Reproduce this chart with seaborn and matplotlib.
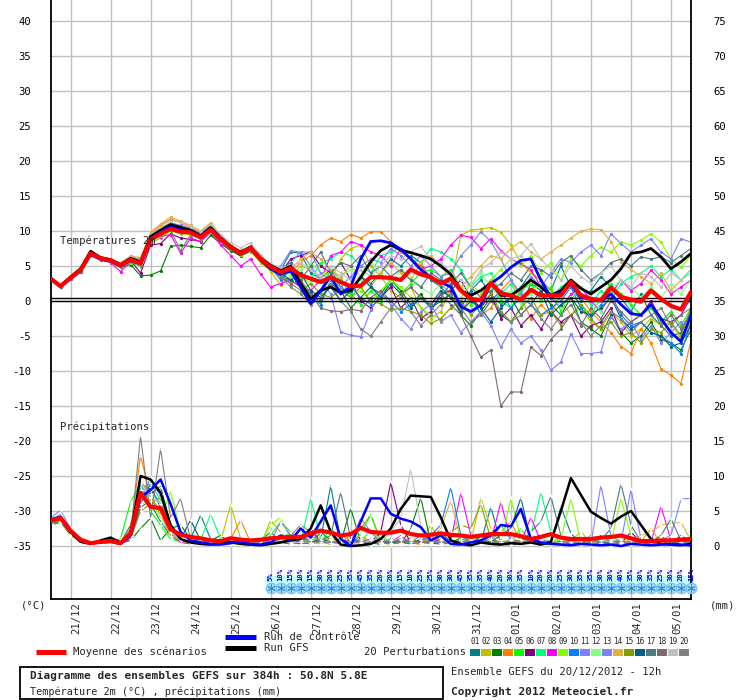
import numpy as np
import pandas as pd
import matplotlib
matplotlib.use("Agg")
import matplotlib.pyplot as plt
from matplotlib.patches import Rectangle
from matplotlib.lines import Line2D
import seaborn as sns

# ---------------- data ----------------
step_hours = list(range(0, 385, 6))          # 65 forecast steps, 6-hourly from 20/12 12h
day_labels = ["21/12", "22/12", "23/12", "24/12", "25/12", "26/12", "27/12", "28/12",
              "29/12", "30/12", "31/12", "01/01", "02/01", "03/01", "04/01", "05/01"]
day_hours = [12, 36, 60, 84, 108, 132, 156, 180, 204, 228, 252, 276, 300, 324, 348, 372]
temp_ticks = [-35, -30, -25, -20, -15, -10, -5, 0, 5, 10, 15, 20, 25, 30, 35, 40]
precip_ticks = [0, 5, 10, 15, 20, 25, 30, 35, 40, 45, 50, 55, 60, 65, 70, 75]

snow_pct = [5, 10, 15, 10, 15, 30, 20, 25, 35, 45, 35, 20, 20, 15, 10, 25, 25, 30, 30, 45, 35, 35,
            40, 20, 30, 35, 10, 20, 20, 25, 30, 35, 35, 30, 30, 40, 35, 30, 35, 25, 30, 20, 15]
snow_first_step = 22

temp_mean = [3.2, 2.1, 3.3, 4.4, 6.8, 6.1, 5.8, 5.1, 5.9, 5.4,
             8.8, 9.6, 10.3, 9.9, 9.8, 9.1, 10.2, 8.8, 7.7, 6.8,
             7.6, 6.0, 4.9, 4.1, 4.7, 3.7, 3.2, 2.7, 3.4, 2.7,
             2.1, 2.2, 3.4, 3.4, 3.3, 3.0, 4.5, 3.8, 3.4, 2.5,
             3.2, 1.5, 0.3, 0.1, 2.6, 1.1, 0.8, 0.2, 1.6, 0.8,
             0.8, 0.8, 2.7, 0.8, 0.3, 0.1, 1.9, 0.6, 0.2, -0.1,
             1.5, 0.3, -0.7, -1.2, 1.3]
temp_gfs = [3.3, 2.2, 3.4, 4.6, 7.1, 6.2, 5.9, 5.2, 6.1, 5.6,
            9.2, 10.1, 10.9, 10.5, 10.1, 9.3, 10.5, 9.0, 7.8, 7.0,
            7.7, 6.1, 5.1, 4.3, 5.0, 2.5, 0.3, 1.5, 2.0, 1.2,
            1.5, 3.4, 5.6, 7.2, 8.0, 7.3, 6.9, 6.5, 6.0, 5.0,
            3.8, 1.5, 0.8, 1.5, 2.6, 0.8, 0.8, 1.8, 3.0, 2.0,
            0.8, 1.5, 3.0, 1.8, 1.0, 2.0, 3.0, 4.6, 6.8, 7.0,
            7.5, 6.3, 4.6, 5.6, 6.8]
temp_ctrl = [3.2, 2.1, 3.2, 4.3, 6.6, 6.0, 5.7, 5.0, 5.8, 5.3,
             8.9, 9.8, 10.6, 10.2, 9.9, 9.2, 10.3, 8.9, 7.6, 6.7,
             7.5, 5.8, 4.6, 3.8, 4.3, 2.0, -0.4, 1.5, 3.5, 1.0,
             2.0, 6.0, 8.5, 8.6, 8.3, 7.4, 6.0, 4.5, 3.3, 2.7,
             2.0, -0.8, -1.5, -0.6, 2.5, 3.5, 4.8, 5.8, 6.0, 3.0,
             0.5, 1.2, 2.5, 0.5, 0.3, 0.0, 1.0, -0.5, -1.8, -2.0,
             -0.5, -2.5, -4.5, -5.8, -2.0]

temp_p01 = [3.3, 2.0, 3.5, 4.6, 7.0, 6.0, 5.5, 5.0, 6.1, 5.8,
            9.4, 10.4, 11.0, 10.6, 10.0, 9.4, 10.6, 8.9, 7.4, 6.9,
            7.8, 6.3, 5.0, 4.4, 7.0, 6.8, 4.0, 3.2, 4.5, 2.0,
            1.0, 3.5, 2.5, 4.0, 6.0, 5.0, 6.5, 5.5, 3.0, 2.0,
            0.5, -1.0, 1.5, 3.0, 1.0, -0.5, 0.5, 2.0, 4.0, 3.0,
            1.5, 5.0, 2.0, 0.0, 1.5, 3.5, 2.0, 0.5, -1.5, 1.0,
            -2.0, -3.5, -5.0, -4.5, -1.5]
temp_p02 = [3.1, 2.2, 3.4, 4.5, 6.9, 6.2, 5.9, 5.3, 6.2, 4.9,
            8.2, 9.0, 10.0, 9.6, 9.5, 8.9, 10.0, 8.6, 7.3, 6.5,
            7.0, 5.5, 4.2, 2.3, 3.5, 5.0, 4.5, 5.5, 3.0, 6.0,
            7.5, 8.0, 5.0, 3.5, 1.5, 0.5, 2.0, -1.0, -2.5, -1.5,
            2.0, 9.4, 10.1, 10.3, 10.5, 9.8, 8.0, 5.5, 4.0, 3.0,
            1.5, 0.0, -2.0, -1.0, -3.0, -4.0, -1.5, -3.0, -5.0, -4.0,
            -2.5, -3.5, -3.0, -5.5, -3.0]
temp_p03 = [3.2, 2.0, 3.2, 4.2, 6.6, 5.8, 5.6, 4.8, 5.2, 3.6,
            3.7, 4.3, 7.8, 8.0, 7.8, 7.6, 9.4, 8.2, 7.2, 6.4,
            7.2, 5.7, 4.5, 3.5, 3.0, 2.0, 1.0, 0.0, 2.5, 1.5,
            -1.0, 0.5, 2.0, 1.0, 3.0, 1.5, -0.5, 1.0, -1.0, 0.0,
            1.0, -2.0, -3.5, -1.5, 0.5, -2.0, -3.0, -1.0, 2.5, 1.5,
            -0.5, -2.0, 0.5, -3.0, -4.0, -5.0, -2.0, -4.5, -6.0, -5.0,
            -3.0, -5.5, -6.0, -7.0, -4.0]
temp_p04 = [3.3, 2.3, 3.6, 4.7, 7.1, 6.3, 6.0, 5.4, 6.4, 6.0,
            9.6, 10.8, 11.7, 11.2, 10.5, 9.8, 11.0, 9.3, 7.9, 7.0,
            7.8, 6.1, 4.8, 4.5, 4.0, 5.5, 6.5, 8.0, 9.0, 8.5,
            9.5, 9.0, 9.9, 9.9, 8.5, 7.0, 6.0, 5.0, 3.5, 2.5,
            1.0, -1.5, 0.5, -2.0, -1.0, 1.5, 3.0, 0.5, -2.5, -0.5,
            -2.0, 1.0, 2.5, 0.5, -1.5, -3.0, -4.5, -6.5, -7.5, -4.0,
            -6.0, -9.7, -10.6, -11.8, -5.6]
temp_p05 = [3.2, 2.1, 3.3, 4.3, 6.7, 6.0, 5.8, 5.2, 5.5, 5.0,
            8.6, 9.5, 10.2, 9.8, 9.9, 9.2, 10.1, 8.7, 7.8, 6.9,
            7.5, 6.0, 4.7, 3.5, 4.5, 3.0, 0.0, 1.5, 4.5, 3.0,
            1.0, -0.5, 1.5, 0.0, 3.5, 1.0, 2.5, 4.0, 4.5, 3.5,
            4.5, 2.0, -0.5, 0.5, 3.0, 0.0, -1.0, 1.5, 2.5, 0.0,
            2.0, -1.5, 1.0, -0.5, -2.0, 0.5, 2.5, 1.0, -0.5, -2.0,
            -1.0, -3.0, -1.5, -3.5, -1.0]
temp_p06 = [3.2, 2.0, 3.3, 4.5, 6.9, 6.2, 5.9, 5.2, 5.8, 4.0,
            8.0, 8.2, 9.6, 9.0, 8.8, 8.5, 9.8, 8.4, 7.4, 6.6,
            7.3, 5.8, 4.5, 4.0, 6.0, 6.5, 7.0, 5.0, 4.0, 5.5,
            3.0, 0.0, -1.0, 0.5, 2.0, -1.0, 0.5, -2.5, -1.5, 1.0,
            1.5, 3.0, 0.5, -1.0, 1.0, -2.5, -1.0, -3.5, -2.0, -4.0,
            -1.5, -3.0, -2.0, -5.0, -3.5, -3.0, -1.0, -4.5, -3.0, -2.0,
            0.0, -2.5, -3.0, -2.0, 0.5]
temp_p07 = [3.1, 2.2, 3.4, 4.4, 6.8, 6.1, 5.7, 5.0, 5.7, 5.6,
            9.2, 10.0, 10.6, 10.1, 9.6, 9.0, 10.0, 8.7, 7.8, 6.9,
            7.7, 5.9, 4.6, 3.8, 2.5, 4.0, 3.0, 5.5, 6.0, 7.0,
            6.5, 5.0, 4.0, 6.5, 7.0, 7.5, 6.0, 5.5, 7.5, 7.0,
            6.0, 4.5, 2.0, 3.5, 4.0, 1.0, 2.5, 0.0, 1.5, 3.0,
            0.5, 2.0, 3.0, 1.0, -0.5, 1.5, 0.0, 2.5, 3.5, 4.0,
            5.0, 3.5, 4.5, 3.0, 4.5]
temp_p08 = [3.2, 2.1, 3.2, 4.3, 6.6, 5.9, 5.5, 4.2, 5.6, 5.2,
            8.5, 9.2, 9.5, 6.8, 9.0, 8.5, 9.8, 8.0, 6.5, 5.0,
            6.0, 3.8, 2.0, 2.5, 3.0, 2.0, 1.5, 3.0, 6.5, 7.0,
            8.5, 8.0, 7.0, 6.5, 5.0, 7.5, 6.0, 4.5, 5.0, 6.0,
            8.0, 9.4, 9.1, 7.5, 8.9, 7.2, 6.0, 5.3, 4.5, 2.0,
            0.5, -1.0, 1.0, 2.0, 0.0, -1.5, 1.0, 3.0, 1.5, 2.5,
            4.4, 3.0, 1.0, 2.0, 3.0]
temp_p09 = [3.2, 2.0, 3.3, 4.4, 6.8, 6.0, 5.6, 4.9, 5.5, 5.3,
            8.4, 9.3, 10.0, 9.6, 9.5, 8.8, 9.9, 8.5, 7.4, 6.6,
            7.3, 5.7, 4.4, 3.5, 4.0, 3.5, 2.5, 4.0, 3.5, 2.0,
            0.5, 1.5, 0.0, 1.5, 3.0, 2.0, 0.5, -1.0, -2.0, -2.5,
            -1.0, 0.5, 2.5, 1.0, 3.0, 4.5, 6.0, 5.0, 6.5, 4.0,
            5.5, 3.0, 6.0, 5.0, 6.5, 7.7, 7.0, 8.4, 8.0, 8.7,
            9.6, 8.4, 6.0, 4.8, 6.5]
temp_p10 = [3.3, 2.2, 3.4, 4.5, 6.8, 6.1, 5.8, 5.1, 5.9, 5.5,
            9.0, 10.0, 10.8, 10.4, 10.2, 9.4, 10.4, 9.0, 7.8, 6.9,
            7.6, 6.0, 4.8, 3.0, 4.5, 2.5, 1.0, -0.5, 3.0, 1.5,
            2.0, 0.5, -0.5, 1.0, 0.0, -1.5, -0.5, 0.5, -1.0, 0.5,
            2.5, -0.5, 1.0, -2.0, 0.0, 1.5, -1.0, 0.5, -0.5, -2.0,
            -1.0, 0.0, 2.0, -1.0, -2.5, -0.5, 1.0, -2.0, -3.5, -3.0,
            -4.5, -5.0, -6.0, -7.5, -3.0]
temp_p11 = [3.1, 2.0, 3.2, 4.3, 6.7, 6.0, 5.7, 5.0, 5.8, 5.4,
            9.0, 9.8, 10.5, 10.0, 9.7, 9.0, 10.0, 8.6, 7.6, 6.8,
            7.5, 5.9, 4.7, 5.0, 7.2, 7.0, 5.0, 3.0, 1.0, -4.4,
            -4.9, -5.1, -1.3, 1.0, -0.5, -2.5, -4.0, -1.5, -0.5, -3.0,
            -2.0, -4.5, -3.0, -1.5, -3.5, -6.6, -4.0, -6.0, -5.0, -7.0,
            -9.9, -8.7, -4.7, -7.5, -7.5, -7.3, -2.3, -4.0, -3.0, -5.5,
            -3.5, -6.0, -4.5, -3.0, -5.0]
temp_p12 = [3.2, 2.1, 3.3, 4.4, 6.7, 6.1, 5.9, 5.2, 6.0, 5.5,
            8.9, 9.7, 10.4, 10.0, 9.9, 9.2, 10.3, 8.9, 7.8, 6.9,
            7.7, 6.1, 5.0, 4.5, 3.5, 4.5, 5.5, 4.0, 2.5, 3.5,
            4.5, 3.0, 5.5, 4.0, 2.5, 4.5, 3.5, 2.0, 1.0, 2.5,
            3.5, 1.5, 2.5, 4.0, 2.0, 0.5, 1.5, -0.5, 1.0, 2.5,
            1.0, -1.0, 0.5, 2.0, 0.5, -1.5, 1.5, 3.0, 2.0, 0.5,
            2.0, 0.5, 2.5, 1.0, 3.0]
temp_p13 = [3.3, 2.2, 3.5, 4.6, 7.0, 6.3, 6.0, 5.4, 6.3, 5.9,
            9.3, 10.2, 11.2, 10.8, 10.4, 9.6, 10.8, 9.3, 8.0, 7.1,
            7.9, 6.4, 5.2, 4.5, 5.5, 7.0, 7.0, 4.0, 3.0, 2.0,
            3.5, 5.0, 6.0, 5.5, 7.5, 6.5, 5.0, 6.5, 5.0, 3.5,
            4.0, 6.5, 8.0, 9.9, 8.5, 6.0, 3.0, 1.0, 3.5, 2.0,
            4.0, 6.0, 5.5, 7.0, 8.0, 6.5, 9.6, 8.2, 7.0, 8.0,
            8.9, 7.0, 6.0, 8.9, 8.4]
temp_p14 = [3.3, 2.2, 3.6, 4.8, 7.2, 6.3, 6.0, 5.4, 6.4, 6.2,
            9.8, 11.0, 12.0, 11.4, 10.8, 10.0, 11.2, 9.4, 8.0, 7.1,
            7.9, 6.3, 5.1, 4.0, 4.5, 6.0, 7.0, 6.0, 4.5, 3.5,
            5.0, 3.5, 2.0, 4.0, 5.5, 4.0, 3.0, 5.5, 6.5, 5.0,
            3.5, 2.0, 3.5, 5.0, 6.5, 6.0, 7.5, 8.5, 7.0, 6.0,
            7.0, 8.0, 9.0, 10.0, 10.3, 10.2, 8.5, 5.6, 4.5, 3.5,
            2.5, 4.0, 1.5, 3.0, 4.0]
temp_p15 = [3.2, 2.1, 3.3, 4.4, 6.7, 6.0, 5.7, 5.0, 5.7, 5.2,
            8.7, 9.5, 10.1, 9.7, 9.6, 8.9, 10.0, 8.6, 7.5, 6.7,
            7.4, 5.8, 4.6, 3.5, 2.5, 1.5, 2.5, 1.0, 0.5, 1.5,
            0.5, 2.0, 0.0, -0.4, -1.3, -1.0, -1.5, -2.0, -3.2, -2.5,
            -1.0, 0.0, -2.0, -0.5, 1.0, -1.5, -3.0, -1.0, 0.5, -2.0,
            -1.5, -3.5, -2.0, -0.5, -2.5, -4.0, -3.0, -5.0, -4.5, -6.0,
            -4.0, -4.5, -3.0, -5.0, -1.0]
temp_p16 = [3.2, 2.0, 3.3, 4.4, 6.9, 6.1, 5.8, 5.1, 6.0, 5.6,
            9.1, 10.0, 10.7, 10.3, 10.1, 9.3, 10.4, 8.9, 7.6, 6.8,
            7.6, 6.1, 4.9, 4.0, 3.0, 4.0, 1.5, 0.5, 2.0, 0.0,
            1.5, 3.5, 2.0, 0.5, 2.5, 1.0, -1.0, 0.5, -0.5, 1.5,
            0.5, -1.5, 0.0, -1.0, -3.0, -1.0, 0.5, -2.0, -0.5, 1.5,
            -2.0, -0.5, 0.5, -1.5, -2.0, -1.0, 0.5, -2.5, -4.0, -3.0,
            -4.5, -5.0, -6.5, -6.0, -3.5]
temp_p17 = [3.3, 2.2, 3.5, 4.6, 7.0, 6.2, 5.9, 5.3, 6.2, 5.8,
            9.4, 10.3, 11.1, 10.7, 10.3, 9.6, 10.7, 9.2, 7.9, 7.0,
            7.8, 6.3, 5.1, 4.6, 5.5, 3.0, 5.0, 7.0, 4.0, 5.5,
            5.0, 6.5, 4.0, 5.0, 3.5, 4.5, 3.0, 2.0, 4.0, 3.0,
            2.5, 4.0, 2.0, 0.5, 1.5, 2.5, 4.0, 3.0, 5.0, 4.5,
            3.5, 5.5, 6.5, 4.5, 3.0, 4.0, 5.5, 6.0, 5.0, 6.3,
            6.0, 6.3, 5.5, 6.5, 7.5]
temp_p18 = [3.2, 2.1, 3.4, 4.5, 6.8, 6.1, 5.8, 5.1, 5.9, 5.5,
            8.9, 9.7, 10.4, 10.0, 9.8, 9.2, 10.2, 8.8, 7.7, 6.8,
            7.6, 6.0, 4.8, 3.5, 2.5, 3.0, 1.0, -1.0, -1.4, -1.5,
            -1.2, -1.4, 0.5, 1.5, 0.0, 1.0, 2.0, 0.5, -0.5, 1.0,
            -0.5, -2.0, -5.0, -8.0, -7.0, -15.0, -13.0, -13.0, -6.6, -7.8,
            -5.5, -4.0, -2.0, -3.5, -1.0, -2.5, 0.0, -1.5, -3.0, -2.0,
            -0.5, -3.5, -2.0, -4.0, -1.5]
temp_p19 = [3.3, 2.2, 3.5, 4.6, 7.1, 6.3, 6.0, 5.3, 6.3, 5.9,
            9.5, 10.5, 11.5, 11.3, 10.6, 9.9, 10.9, 9.5, 8.3, 7.6,
            8.3, 6.6, 5.3, 4.8, 5.0, 5.5, 4.5, 3.5, 5.0, 4.0,
            3.0, 4.5, 3.5, 5.0, 6.5, 6.0, 7.0, 7.8, 6.0, 5.5,
            4.0, 3.0, 2.0, 4.5, 5.5, 7.0, 6.0, 6.5, 8.2, 6.0,
            4.5, 3.0, 5.0, 3.5, 2.5, 4.0, 5.0, 3.0, 2.0, 4.0,
            3.5, 2.0, 4.0, 3.0, 4.0]
temp_p20 = [3.1, 2.0, 3.2, 4.3, 6.6, 5.9, 5.5, 4.8, 5.6, 5.1,
            8.7, 9.5, 10.1, 7.2, 9.5, 8.9, 10.0, 8.6, 7.6, 6.7,
            7.5, 5.9, 4.7, 3.5, 2.0, 1.0, -0.5, 0.5, 2.5, 0.0,
            -1.5, -4.0, -5.0, -3.0, -1.0, 0.5, -1.5, -3.5, -2.0, -0.5,
            1.0, -1.0, -3.0, -2.0, 0.0, -1.5, -3.0, -2.0, -0.5, -2.5,
            -4.0, -2.0, -0.5, -3.0, -5.0, -3.5, -1.5, -2.5, -4.5, -3.0,
            -2.0, -1.0, -3.5, -2.0, -1.0]

prec_mean = [3.6, 4.0, 2.2, 0.9, 0.4, 0.6, 0.7, 0.4, 1.8, 7.6,
             5.6, 5.4, 2.4, 1.6, 1.3, 1.1, 0.8, 0.7, 1.1, 0.9,
             0.8, 0.9, 1.1, 1.2, 1.3, 1.3, 1.8, 2.2, 1.9, 1.5,
             1.7, 2.6, 2.0, 1.9, 1.9, 2.2, 1.7, 1.5, 1.6, 1.8,
             1.6, 1.5, 1.3, 1.5, 1.7, 1.7, 1.7, 1.4, 1.0, 1.3,
             1.7, 1.2, 1.0, 1.0, 1.0, 1.2, 1.3, 1.5, 1.1, 0.7,
             0.7, 0.8, 0.8, 0.9, 1.0]
prec_gfs = [3.5, 4.2, 2.0, 0.6, 0.3, 0.8, 1.2, 0.5, 1.5, 10.0,
            9.5, 7.6, 3.0, 1.0, 0.5, 0.3, 0.2, 0.3, 0.6, 0.3,
            0.2, 0.1, 0.3, 0.5, 0.8, 1.0, 2.5, 5.8, 2.0, 0.2,
            0.0, 0.1, 0.3, 1.0, 2.5, 5.3, 7.2, 7.1, 7.0, 4.1,
            0.8, 0.3, 0.1, 0.5, 0.3, 0.2, 0.4, 0.3, 0.5, 0.2,
            0.6, 5.0, 9.7, 7.3, 4.9, 4.0, 3.2, 4.2, 5.0, 3.0,
            1.0, 0.3, 0.2, 0.1, 0.3]
prec_ctrl = [3.8, 4.1, 2.0, 0.8, 0.4, 0.5, 0.6, 0.3, 1.5, 7.0,
             8.0, 9.5, 6.0, 2.0, 0.8, 0.5, 0.3, 0.2, 0.4, 0.6,
             0.3, 0.2, 0.5, 1.5, 0.8, 2.5, 1.2, 3.5, 5.8, 1.0,
             0.0, 3.5, 6.8, 6.8, 4.6, 3.9, 3.5, 2.7, 0.8, 1.5,
             0.3, 0.2, 0.5, 0.8, 1.5, 3.0, 2.8, 5.3, 1.0, 0.5,
             0.3, 0.2, 0.1, 0.3, 0.2, 0.1, 0.2, 0.0, 0.3, 0.2,
             0.1, 0.2, 0.3, 0.2, 0.1]

prec_p01 = [3.5, 3.9, 1.8, 0.5, 0.3, 0.6, 0.8, 0.5, 3.0, 8.5,
            6.0, 3.5, 1.5, 0.5, 1.0, 4.4, 1.0, 0.2, 0.5, 0.3,
            0.1, 0.8, 2.0, 0.5, 0.3, 1.2, 0.5, 1.0, 8.6, 0.8,
            0.3, 1.5, 0.5, 0.2, 1.0, 0.8, 0.3, 1.0, 0.5, 2.0,
            0.6, 0.2, 0.8, 0.5, 5.6, 0.3, 0.1, 0.5, 1.0, 0.3,
            0.2, 5.6, 1.8, 0.3, 0.2, 0.6, 0.4, 0.2, 0.8, 0.3,
            0.5, 1.5, 0.3, 0.2, 0.6]
prec_p02 = [3.2, 3.6, 1.5, 0.7, 0.5, 0.4, 0.6, 0.3, 2.0, 6.5,
            7.0, 5.0, 2.0, 1.0, 0.5, 0.8, 0.3, 0.6, 5.9, 1.0,
            0.5, 0.2, 3.7, 2.0, 0.5, 0.3, 1.0, 0.6, 0.2, 1.5,
            0.8, 0.3, 2.5, 0.5, 0.2, 0.6, 1.2, 0.4, 3.0, 0.5,
            0.3, 1.0, 0.5, 6.9, 2.5, 0.8, 0.3, 0.5, 1.5, 0.2,
            0.5, 0.3, 0.8, 2.0, 0.5, 0.2, 0.4, 1.0, 0.3, 0.6,
            2.5, 0.4, 1.0, 0.3, 0.5]
prec_p03 = [3.0, 3.4, 1.6, 0.6, 0.4, 0.5, 0.7, 0.4, 0.8, 2.5,
            4.0, 0.8, 2.5, 3.0, 1.0, 0.5, 0.8, 1.5, 0.4, 0.2,
            0.6, 0.3, 1.0, 0.4, 1.8, 0.5, 0.3, 2.0, 0.8, 0.5,
            5.4, 0.5, 0.2, 1.0, 0.6, 0.3, 2.5, 6.9, 0.5, 0.3,
            0.4, 1.2, 0.3, 0.5, 0.8, 0.2, 0.6, 0.3, 1.0, 0.4,
            0.2, 0.8, 0.5, 0.3, 1.5, 0.4, 0.2, 0.6, 0.3, 1.0,
            0.3, 0.6, 0.2, 0.8, 0.3]
prec_p04 = [3.6, 4.0, 2.2, 0.8, 0.5, 0.6, 0.9, 0.5, 2.5, 12.9,
            7.0, 4.5, 1.5, 0.8, 0.5, 1.0, 0.6, 0.3, 1.0, 3.7,
            0.5, 0.3, 0.8, 1.5, 0.5, 2.5, 0.3, 0.8, 1.0, 0.5,
            1.5, 2.5, 4.5, 0.8, 0.3, 0.6, 0.5, 0.2, 1.2, 0.4,
            0.6, 0.3, 1.0, 0.4, 0.8, 2.0, 3.5, 0.5, 0.3, 0.6,
            0.4, 1.5, 0.3, 0.5, 0.2, 0.8, 0.4, 0.3, 0.6, 0.2,
            0.5, 0.3, 0.8, 0.2, 0.4]
prec_p05 = [3.3, 3.8, 2.0, 0.6, 0.4, 0.5, 0.7, 1.0, 6.3, 9.0,
            5.0, 3.0, 1.0, 0.6, 0.3, 0.5, 0.4, 0.8, 0.6, 0.3,
            0.8, 0.5, 1.5, 3.5, 2.0, 0.8, 1.5, 0.5, 2.5, 1.0,
            0.5, 1.8, 4.5, 0.5, 1.0, 0.3, 0.8, 0.5, 1.5, 0.6,
            1.0, 0.3, 0.5, 1.2, 0.8, 0.4, 0.6, 2.5, 0.5, 0.3,
            0.8, 0.4, 0.6, 0.3, 1.0, 0.5, 0.2, 0.7, 0.4, 0.3,
            0.6, 0.4, 0.3, 0.5, 1.0]
prec_p06 = [3.4, 3.7, 1.9, 0.7, 0.5, 0.4, 0.6, 0.3, 1.2, 6.0,
            8.5, 5.5, 2.0, 0.8, 0.4, 0.6, 0.3, 0.5, 0.4, 0.8,
            0.3, 0.5, 0.8, 0.4, 1.0, 0.3, 2.5, 0.6, 1.5, 0.5,
            0.3, 1.0, 0.5, 2.0, 9.1, 3.0, 0.5, 0.8, 0.3, 1.0,
            0.4, 0.6, 0.3, 1.5, 0.5, 0.3, 0.8, 0.4, 1.0, 0.6,
            0.3, 0.5, 0.8, 0.4, 0.3, 1.5, 0.6, 0.4, 2.0, 0.5,
            0.3, 0.8, 0.4, 1.5, 0.6]
prec_p07 = [3.7, 4.2, 2.1, 0.8, 0.6, 0.5, 0.8, 0.4, 1.5, 8.0,
            9.0, 6.5, 2.5, 1.5, 1.0, 0.8, 4.6, 1.0, 0.5, 0.3,
            0.6, 0.4, 0.8, 1.0, 2.0, 0.5, 6.9, 1.0, 0.4, 0.8,
            0.3, 0.6, 0.4, 1.0, 0.5, 0.3, 0.8, 0.5, 0.3, 0.6,
            0.4, 0.8, 0.5, 0.3, 0.6, 3.0, 0.8, 0.4, 1.5, 7.7,
            2.0, 0.5, 0.3, 0.8, 1.2, 0.4, 0.6, 0.3, 0.5, 0.8,
            0.4, 0.3, 0.6, 0.5, 0.3]
prec_p08 = [3.4, 3.9, 2.0, 0.7, 0.3, 0.6, 0.7, 0.3, 1.0, 7.0,
            6.0, 5.0, 1.8, 0.5, 0.3, 0.4, 0.6, 0.3, 0.5, 0.4,
            0.3, 0.8, 0.5, 0.4, 1.2, 0.6, 0.3, 0.8, 0.5, 0.4,
            1.0, 0.6, 0.4, 0.8, 0.5, 1.5, 0.3, 0.6, 1.2, 0.5,
            0.8, 7.6, 1.5, 0.4, 0.6, 6.3, 0.8, 0.5, 4.1, 0.6,
            0.3, 0.5, 0.8, 0.4, 0.3, 0.6, 0.2, 0.5, 0.3, 1.0,
            0.5, 5.7, 0.8, 0.3, 0.5]
prec_p09 = [3.2, 3.5, 1.7, 0.6, 0.4, 0.6, 0.8, 0.5, 2.0, 7.5,
            6.5, 4.0, 7.8, 2.0, 0.8, 0.5, 0.3, 0.6, 0.4, 0.8,
            0.5, 0.3, 3.0, 4.1, 1.0, 0.5, 0.8, 0.4, 1.5, 0.6,
            0.4, 0.8, 0.5, 1.5, 0.6, 0.3, 1.0, 0.4, 0.8, 0.5,
            0.3, 0.6, 1.2, 0.5, 0.8, 0.4, 6.8, 1.0, 0.5, 0.3,
            0.6, 1.0, 6.8, 0.5, 0.3, 0.8, 0.4, 6.8, 1.5, 0.4,
            0.6, 0.3, 0.8, 0.5, 0.4]
prec_p10 = [3.5, 4.0, 2.0, 0.7, 0.4, 0.5, 0.6, 0.4, 1.8, 9.0,
            8.0, 6.0, 2.2, 1.0, 0.6, 0.4, 0.3, 0.5, 0.8, 0.4,
            0.3, 0.5, 0.4, 0.8, 0.5, 1.5, 0.6, 0.3, 0.8, 1.0,
            0.4, 0.8, 0.6, 0.3, 1.0, 0.5, 0.4, 0.8, 1.5, 3.0,
            8.4, 1.5, 0.6, 0.4, 0.8, 0.5, 0.3, 0.6, 0.4, 1.0,
            0.5, 0.3, 0.6, 0.4, 0.8, 0.3, 0.5, 0.2, 0.4, 0.6,
            0.3, 0.5, 0.4, 0.3, 0.6]
prec_p11 = [4.0, 5.1, 2.5, 0.8, 0.5, 0.6, 0.8, 0.4, 1.5, 6.5,
            9.8, 7.0, 2.5, 1.0, 0.6, 0.4, 0.8, 0.5, 0.3, 0.6,
            0.4, 1.0, 0.6, 3.5, 1.5, 0.8, 0.5, 1.2, 0.6, 0.4,
            0.8, 0.5, 1.0, 0.6, 0.4, 0.8, 0.5, 1.5, 0.6, 0.3,
            0.5, 0.8, 0.4, 0.6, 1.0, 0.5, 0.3, 0.8, 0.6, 0.4,
            0.3, 0.6, 0.5, 0.8, 0.4, 8.7, 1.5, 0.5, 8.1, 1.0,
            0.4, 0.6, 0.8, 0.5, 0.3]
prec_p12 = [3.6, 4.1, 2.1, 0.7, 0.5, 0.6, 0.7, 0.5, 1.2, 5.5,
            7.5, 6.0, 2.0, 0.8, 0.5, 0.6, 0.4, 0.3, 0.6, 0.5,
            0.8, 0.4, 0.6, 1.5, 0.5, 0.8, 0.4, 0.6, 1.0, 0.5,
            0.3, 0.6, 2.5, 0.5, 0.8, 1.0, 0.4, 0.6, 0.3, 0.8,
            0.5, 0.4, 0.8, 1.5, 0.6, 0.3, 0.5, 0.4, 0.8, 1.5,
            0.6, 0.3, 0.5, 0.8, 0.4, 0.6, 1.0, 0.5, 0.3, 0.4,
            0.6, 0.3, 0.5, 0.8, 0.4]
prec_p13 = [3.8, 4.5, 2.3, 0.9, 0.5, 0.5, 0.8, 0.4, 2.0, 8.0,
            8.5, 8.0, 3.0, 1.0, 0.5, 0.6, 0.4, 0.8, 0.5, 0.3,
            0.6, 0.4, 1.0, 0.5, 0.8, 0.6, 0.4, 0.5, 0.8, 0.4,
            0.6, 4.0, 2.0, 0.5, 0.6, 1.0, 0.5, 0.3, 0.8, 0.4,
            0.6, 0.5, 0.3, 0.8, 0.4, 0.6, 0.5, 0.3, 0.8, 0.5,
            0.4, 0.6, 0.3, 0.5, 0.4, 0.8, 0.5, 0.3, 0.6, 0.4,
            0.5, 0.8, 1.5, 6.7, 6.8]
prec_p14 = [3.3, 3.8, 1.9, 0.6, 0.4, 0.6, 0.7, 0.3, 1.5, 9.5,
            7.0, 4.5, 1.5, 0.8, 0.4, 0.6, 0.8, 0.5, 0.3, 0.6,
            0.4, 0.5, 0.8, 0.6, 0.3, 0.5, 0.8, 1.2, 0.6, 0.4,
            0.8, 1.5, 0.6, 0.4, 0.8, 0.5, 0.3, 0.6, 1.0, 2.5,
            6.5, 0.8, 0.5, 0.4, 0.6, 0.3, 0.8, 0.5, 0.4, 0.6,
            0.5, 0.3, 0.6, 0.4, 0.8, 0.5, 0.3, 0.6, 0.8, 1.5,
            2.0, 3.0, 3.2, 3.4, 0.8]
prec_p15 = [3.1, 3.6, 1.8, 0.6, 0.4, 0.5, 0.6, 0.4, 1.0, 5.0,
            6.0, 7.0, 2.0, 0.8, 0.5, 0.4, 0.6, 0.3, 0.5, 0.4,
            0.3, 0.6, 0.4, 0.8, 0.5, 0.3, 0.6, 0.4, 0.8, 0.5,
            0.4, 0.6, 0.8, 0.5, 0.3, 0.6, 1.0, 0.5, 0.8, 1.5,
            2.0, 3.0, 2.5, 6.0, 1.0, 0.5, 0.8, 0.4, 0.6, 0.3,
            0.5, 0.4, 0.8, 0.3, 0.6, 0.5, 0.4, 0.8, 0.3, 0.5,
            0.4, 0.6, 0.3, 0.5, 0.8]
prec_p16 = [3.5, 3.9, 2.0, 0.7, 0.5, 0.6, 0.7, 0.4, 1.2, 7.0,
            7.5, 8.5, 3.0, 1.0, 3.7, 0.8, 0.5, 0.4, 0.6, 0.3,
            0.5, 0.8, 0.4, 0.6, 0.3, 0.8, 0.5, 1.0, 0.6, 0.4,
            0.8, 0.5, 0.3, 0.6, 0.4, 0.8, 0.5, 0.6, 0.4, 0.3,
            0.6, 0.4, 0.8, 0.5, 0.6, 1.5, 2.5, 6.9, 0.8, 0.5,
            0.4, 0.6, 0.3, 0.5, 0.8, 0.4, 0.6, 0.3, 0.5, 0.4,
            0.6, 0.4, 0.3, 0.5, 0.6]
prec_p17 = [3.4, 3.8, 1.9, 0.6, 0.4, 0.6, 0.8, 0.5, 1.0, 6.0,
            9.0, 7.5, 2.5, 0.8, 0.5, 0.6, 0.4, 0.8, 0.5, 0.6,
            0.4, 0.6, 0.8, 0.5, 0.3, 0.6, 0.4, 0.8, 1.5, 7.7,
            1.0, 0.5, 0.6, 0.4, 0.8, 0.5, 0.3, 0.6, 0.4, 0.8,
            0.5, 0.6, 0.4, 0.8, 0.5, 0.3, 1.0, 0.6, 2.0, 3.5,
            7.1, 1.5, 0.6, 0.4, 0.5, 0.8, 2.5, 8.9, 3.0, 0.6,
            0.4, 1.5, 3.9, 0.8, 0.5]
prec_p18 = [3.3, 3.7, 1.8, 0.6, 0.4, 0.5, 0.6, 0.4, 1.0, 5.5,
            6.5, 5.0, 2.0, 0.8, 0.5, 0.6, 0.3, 0.5, 0.4, 0.6,
            0.3, 0.5, 0.8, 0.4, 0.6, 0.3, 0.5, 0.8, 0.4, 0.6,
            0.5, 0.8, 0.4, 0.6, 0.3, 0.5, 0.8, 0.4, 0.6, 0.3,
            0.5, 0.4, 0.6, 0.8, 0.5, 0.3, 0.6, 0.4, 0.5, 0.8,
            0.4, 0.6, 0.3, 0.5, 0.4, 0.6, 0.8, 0.5, 0.3, 0.6,
            0.4, 0.5, 0.3, 0.6, 0.8]
prec_p19 = [3.5, 4.0, 2.0, 0.7, 0.5, 0.6, 0.7, 0.4, 2.0, 9.0,
            7.0, 6.0, 2.0, 0.8, 0.5, 0.3, 0.6, 0.4, 0.5, 0.8,
            0.4, 0.6, 0.5, 0.8, 0.4, 0.6, 0.5, 0.3, 0.8, 0.5,
            0.6, 0.4, 0.8, 0.5, 2.0, 4.0, 11.0, 3.0, 0.8, 0.5,
            0.6, 0.4, 0.8, 0.5, 0.3, 0.6, 0.8, 0.4, 0.5, 0.6,
            0.8, 0.4, 0.6, 0.5, 0.3, 0.8, 0.6, 0.4, 0.5, 0.3,
            0.6, 0.4, 0.8, 0.5, 0.3]
prec_p20 = [3.2, 3.6, 1.7, 0.6, 0.4, 0.5, 0.7, 0.4, 1.5, 15.7,
            4.0, 13.9, 4.0, 6.8, 1.0, 0.5, 0.8, 0.4, 0.6, 0.3,
            0.5, 0.4, 0.8, 0.6, 1.5, 3.0, 2.0, 0.6, 0.4, 0.8,
            0.5, 0.6, 0.4, 0.8, 0.5, 1.0, 0.6, 0.4, 0.8, 0.5,
            0.4, 0.6, 0.8, 0.5, 0.3, 0.6, 0.5, 0.8, 0.4, 0.6,
            0.5, 0.3, 0.6, 0.4, 0.8, 0.5, 0.3, 0.6, 0.4, 0.5,
            0.3, 0.6, 0.4, 0.8, 0.5]

pert_colors = ["#008080", "#c0c000", "#008000", "#ff8000", "#00ff00", "#800080", "#00ff80",
               "#ff00ff", "#80ff00", "#0080ff", "#8080ff", "#80ff80", "#8080ff", "#e0b040",
               "#80a000", "#006080", "#507880", "#806870", "#c0c0c0", "#808080"]
pert_names = ["%02d" % k for k in range(1, 21)]

temp_perts = [temp_p01, temp_p02, temp_p03, temp_p04, temp_p05, temp_p06, temp_p07, temp_p08,
              temp_p09, temp_p10, temp_p11, temp_p12, temp_p13, temp_p14, temp_p15, temp_p16,
              temp_p17, temp_p18, temp_p19, temp_p20]
prec_perts = [prec_p01, prec_p02, prec_p03, prec_p04, prec_p05, prec_p06, prec_p07, prec_p08,
              prec_p09, prec_p10, prec_p11, prec_p12, prec_p13, prec_p14, prec_p15, prec_p16,
              prec_p17, prec_p18, prec_p19, prec_p20]

PREC_OFFSET = 35  # precipitation axis: 0 mm sits at -35 on the temperature axis

# ---------------- tables ----------------
rows = []
for name, t, p in zip(pert_names, temp_perts, prec_perts):
    assert len(t) == 65 and len(p) == 65, name
    for h, tv, pv in zip(step_hours, t, p):
        rows.append((name, h, tv, pv - PREC_OFFSET))
df_pert = pd.DataFrame(rows, columns=["member", "hour", "temp", "prec"])
for s in (temp_mean, temp_gfs, temp_ctrl, prec_mean, prec_gfs, prec_ctrl):
    assert len(s) == 65
df_main = pd.DataFrame({"hour": step_hours,
                        "t_mean": temp_mean, "t_gfs": temp_gfs, "t_ctrl": temp_ctrl,
                        "p_mean": np.array(prec_mean) - PREC_OFFSET,
                        "p_gfs": np.array(prec_gfs) - PREC_OFFSET,
                        "p_ctrl": np.array(prec_ctrl) - PREC_OFFSET})
palette = dict(zip(pert_names, pert_colors))

# ---------------- figure ----------------
sns.set_theme(style="white")
FONT = ["DejaVu Sans Mono"]
plt.rcParams["font.family"] = FONT

W, H = 740, 700
fig = plt.figure(figsize=(W / 100, H / 100), dpi=100)
fig.patch.set_facecolor("white")
y0, px_per_unit = 301.0, 7.0
AX_BOTTOM = 599
ylim_top = y0 / px_per_unit
ylim_bot = (y0 - AX_BOTTOM) / px_per_unit
ax = fig.add_axes([50.5 / W, 1 - AX_BOTTOM / H, (691 - 50.5) / W, AX_BOTTOM / H])
ax.set_xlim(0, 384)
ax.set_ylim(ylim_bot, ylim_top)
ax.set_facecolor("white")

# grid
for v in temp_ticks:
    ax.axhline(v, color="#c0c0c0", lw=1.0, zorder=0)
for h in day_hours:
    ax.axvline(h, color="#c0c0c0", lw=1.0, zorder=0)

# perturbations
sns.lineplot(data=df_pert, x="hour", y="temp", hue="member", palette=palette,
             estimator=None, legend=False, lw=0.8, marker="o", markersize=2.3,
             markeredgewidth=0, ax=ax, zorder=2)
sns.lineplot(data=df_pert, x="hour", y="prec", hue="member", palette=palette,
             estimator=None, legend=False, lw=0.8, marker="+", markersize=3.5,
             markeredgewidth=0.8, ax=ax, zorder=2)

# zero line (double)
ax.axhline(0.0, color="black", lw=1.0, zorder=3)
ax.axhline(0.42, color="black", lw=1.0, zorder=3)

# GFS, control, mean
for col, color, lw, z in (("t_gfs", "black", 2.0, 4), ("t_ctrl", "#0000ff", 2.0, 5),
                          ("t_mean", "#ff0000", 3.0, 6),
                          ("p_gfs", "black", 1.8, 4), ("p_ctrl", "#0000ff", 1.8, 5),
                          ("p_mean", "#ff0000", 3.0, 6)):
    sns.lineplot(data=df_main, x="hour", y=col, color=color, lw=lw, ax=ax, zorder=z,
                 estimator=None)

# snow probability strip
band_x0 = step_hours[snow_first_step] - 3.5
ax.add_patch(Rectangle((band_x0, -40.6), 384 - band_x0 + 2, 1.3, facecolor="#c8ffff",
                       edgecolor="none", zorder=1, clip_on=False))
snow_hours = step_hours[snow_first_step:snow_first_step + len(snow_pct)]
ax.scatter(snow_hours, [-41.0] * len(snow_hours), s=60, marker="o", color="#a8dcf8",
           edgecolors="#60b8f0", linewidths=0.6, zorder=7, clip_on=False)
ax.scatter(snow_hours, [-41.0] * len(snow_hours), s=30, marker=(6, 2, 0), color="#3090e0",
           linewidths=0.7, zorder=8, clip_on=False)
for h, p in zip(snow_hours, snow_pct):
    ax.text(h, -39.95, f"{p}%", rotation=90, ha="center", va="bottom", fontsize=5.2,
            color="#0000ff", fontweight="bold", family=FONT, zorder=9)

# spines
for side in ("left", "right", "bottom"):
    ax.spines[side].set_color("black")
    ax.spines[side].set_linewidth(1.3)
ax.spines["top"].set_visible(False)

# ticks
ax.set_yticks(temp_ticks)
ax.set_yticklabels([str(v) for v in temp_ticks])
ax.set_xticks(day_hours)
ax.set_xticklabels([])
ax.tick_params(axis="y", length=0, pad=14, labelsize=7.6, labelcolor="black")
ax.tick_params(axis="x", length=0)
ax.set_xlabel("")
ax.set_ylabel("")
# date labels, slightly right of their gridline as in the original
for h, lab in zip(day_hours, day_labels):
    ax.text(h + 3.6, ylim_bot - 0.45, lab, rotation=90, ha="center", va="top",
            fontsize=7.6, family=FONT, clip_on=False)

ax2 = ax.twinx()
ax2.set_ylim(ax.get_ylim())
ax2.set_yticks(temp_ticks)
ax2.set_yticklabels([str(v) for v in precip_ticks])
ax2.tick_params(axis="y", length=0, pad=16, labelsize=7.6, labelcolor="black")
for s in ax2.spines.values():
    s.set_visible(False)

# in-plot labels
ax.text(5.5, 8.6, "Températures 2m", fontsize=7.6, va="center", ha="left", zorder=10,
        family=FONT)
ax.text(5.5, -18.0, "Précipitations", fontsize=7.6, va="center", ha="left", zorder=10,
        family=FONT)

def ftext(x, y, s, **kw):
    kw.setdefault("family", FONT)
    fig.text(x / W, 1 - y / H, s, **kw)

ftext(21, 606, "(°C)", fontsize=7.6, va="center", ha="left")
ftext(710, 606, "(mm)", fontsize=7.6, va="center", ha="left")

# legend area
def fline(x0, x1, y, color, lw):
    fig.add_artist(Line2D([x0 / W, x1 / W], [1 - y / H, 1 - y / H], color=color, lw=lw,
                          solid_capstyle="butt"))

fline(36, 66, 652, "#ff0000", 3.6)
ftext(73, 652, "Moyenne des scénarios", fontsize=7.6, va="center")
fline(225, 256, 637, "#0000ff", 3.6)
ftext(264, 637, "Run de contrôle", fontsize=7.6, va="center")
fline(225, 256, 648, "black", 3.6)
ftext(264, 648, "Run GFS", fontsize=7.6, va="center")
ftext(466, 652, "20 Perturbations", fontsize=7.6, va="center", ha="right")
for k, (name, col) in enumerate(zip(pert_names, pert_colors)):
    x = 470 + 11 * k
    fig.add_artist(Rectangle((x / W, 1 - 656 / H), 10 / W, 7 / H, facecolor=col,
                             edgecolor="none", transform=fig.transFigure))
    ftext(x + 5, 642, name, fontsize=5.6, va="center", ha="center")

fig.add_artist(Rectangle((20 / W, 1 - 699 / H), 423 / W, 32 / H, facecolor="none",
                         edgecolor="black", lw=1.3, transform=fig.transFigure))
ftext(30, 676, "Diagramme des ensembles GEFS sur 384h : 50.8N 5.8E", fontsize=8.0,
      fontweight="bold", va="center")
ftext(30, 692, "Température 2m (°C) , précipitations (mm)", fontsize=7.3, va="center")
ftext(451, 672, "Ensemble GEFS du 20/12/2012 - 12h", fontsize=7.6, va="center")
ftext(451, 692, "Copyright 2012 Meteociel.fr", fontsize=8.0, fontweight="bold", va="center")

fig.savefig("out.png", dpi=100, facecolor="white")
